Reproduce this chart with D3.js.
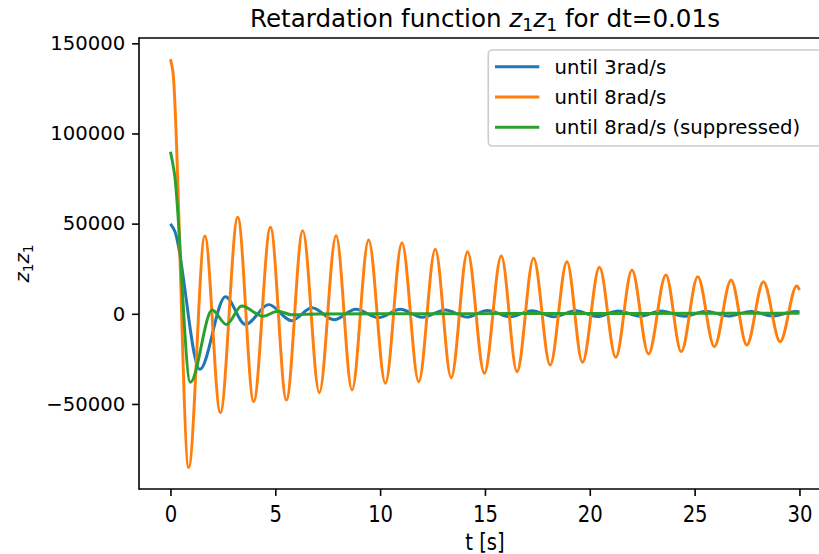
<!DOCTYPE html>
<html>
<head>
<meta charset="utf-8">
<script src="https://cdn.jsdelivr.net/npm/d3@7"></script>
<style>
  html, body { margin: 0; padding: 0; background: #fff; }
  svg { display: block; font-family: "DejaVu Sans", sans-serif; }
</style>
</head>
<body>
<svg id="chart" width="819" height="554"></svg>
<script>
// Turning points [t (s), z1z1] of each retardation function
const until3 = [
  [0, 49800], [0.2, 46000], [1.40, -30770], [2.62, 9480], [3.58, -5900], [4.69, 5100],
  [5.77, -3800], [6.75, 3300], [7.80, -3250], [8.84, 2550], [9.93, -2160],
  [10.96, 2490], [12.00, -1940], [13.11, 2100], [14.14, -1800], [15.12, 1800],
  [16.21, -1700], [17.24, 1750], [18.27, -1600], [19.34, 1650], [20.34, -1500],
  [21.37, 1550], [22.40, -1400], [23.40, 1500], [24.50, -1350], [25.55, 1400],
  [26.60, -1300], [27.70, 1350], [28.70, -1250], [29.80, 1300], [30.00, 1200]
];
const until8 = [
  [0, 141250], [0.12, 134000], [0.87, -85300], [1.64, 43100], [2.38, -54800], [3.21, 53500],
  [3.97, -48700], [4.77, 47950], [5.53, -47800], [6.31, 46060], [7.10, -43730],
  [7.90, 43290], [8.66, -42240], [9.45, 40900], [10.25, -38520], [11.04, 39410],
  [11.84, -37640], [12.63, 35750], [13.39, -35420], [14.17, 34420], [14.97, -32980],
  [15.78, 32040], [16.53, -32090], [17.32, 30760], [18.11, -28380], [18.91, 28880],
  [19.65, -26880], [20.46, 25770], [21.24, -24110], [22.01, 24280], [22.80, -22280],
  [23.63, 21510], [24.36, -21010], [25.15, 20560], [25.94, -18240], [26.74, 18740],
  [27.49, -17290], [28.28, 17790], [29.08, -15470], [29.87, 15410], [30.00, 13190]
];
const until8Suppressed = [
  [0, 89850], [0.2, 77000], [0.95, -37970], [1.99, 2100], [2.67, -5900], [3.40, 4320],
  [4.41, -1390], [5.12, 1440], [5.80, -550], [7.00, -100], [10.00, 0],
  [15.00, 100], [20.00, 150], [25.00, 250], [30.00, 300]
];

const seriesNames = ["until 3rad/s", "until 8rad/s", "until 8rad/s (suppressed)"];
const seriesData = [until3, until8, until8Suppressed];
const seriesColors = ["#1f77b4", "#ff7f0e", "#2ca02c"];

const xTicks = [0, 5, 10, 15, 20, 25, 30];
const yTicks = [-50000, 0, 50000, 100000, 150000];

const FS = 19.65;              // tick / label font size
const XSTRETCH = 1.2;          // vertical stretch of the x-axis texts
const plot = { left: 139, right: 830.9, top: 38, bottom: 489 };

const svg = d3.select("#chart");

const x = d3.scaleLinear().domain([-1.5, 31.5]).range([plot.left, plot.right]);
const y = d3.scaleLinear().domain([-97155, 152940]).range([plot.bottom, plot.top]);

// clip region for the data lines
svg.append("defs").append("clipPath").attr("id", "plotclip")
  .append("rect")
  .attr("x", plot.left).attr("y", plot.top)
  .attr("width", plot.right - plot.left).attr("height", plot.bottom - plot.top);

const line = d3.line()
  .x(d => x(d[0]))
  .y(d => y(d[1]))
  .curve(d3.curveMonotoneX);

const lines = svg.append("g").attr("clip-path", "url(#plotclip)");
seriesData.forEach((data, i) => {
  lines.append("path")
    .datum(data)
    .attr("d", line)
    .attr("fill", "none")
    .attr("stroke", seriesColors[i])
    .attr("stroke-width", 2.95)
    .attr("stroke-linejoin", "round")
    .attr("stroke-linecap", "butt");
});

// axes
const xAxis = svg.append("g")
  .attr("transform", `translate(0,${plot.bottom})`)
  .call(d3.axisBottom(x).tickValues(xTicks).tickSize(6.9).tickPadding(0).tickFormat(d3.format("d")));
const yAxis = svg.append("g")
  .attr("transform", `translate(${plot.left},0)`)
  .call(d3.axisLeft(y).tickValues(yTicks).tickSize(6.9).tickPadding(6.9).tickFormat(d3.format("d")));

[xAxis, yAxis].forEach(g => {
  g.select(".domain").remove();
  g.selectAll(".tick line").attr("stroke", "#000").attr("stroke-width", 1.6);
  g.selectAll(".tick text")
    .attr("fill", "#000")
    .style("font-family", "DejaVu Sans")
    .style("font-size", FS + "px");
});
// x tick labels: cap top just below the ticks, stretched vertically
xAxis.selectAll(".tick text")
  .attr("y", 0)
  .attr("dy", "0.73em")
  .attr("transform", `translate(0,16) scale(1,${XSTRETCH})`);

// spines
const spines = svg.append("g").attr("stroke", "#000").attr("stroke-width", 1.6).attr("fill", "none");
spines.append("line").attr("x1", plot.left).attr("x2", plot.left).attr("y1", plot.top - 0.8).attr("y2", plot.bottom + 0.8);
spines.append("line").attr("x1", plot.left).attr("x2", plot.right).attr("y1", plot.bottom).attr("y2", plot.bottom);
spines.append("line").attr("x1", plot.left).attr("x2", plot.right).attr("y1", plot.top).attr("y2", plot.top);
spines.append("line").attr("x1", plot.right).attr("x2", plot.right).attr("y1", plot.top).attr("y2", plot.bottom);

// title with math-style subscripts
const cx = (plot.left + plot.right) / 2;
const title = svg.append("text")
  .attr("x", cx).attr("y", 27)
  .attr("text-anchor", "middle")
  .style("font-size", "24.6px")
  .attr("fill", "#000");
title.append("tspan").text("Retardation function ");
title.append("tspan").style("font-style", "italic").text("z");
title.append("tspan").attr("dy", 4).style("font-size", "17.2px").text("1");
title.append("tspan").attr("dy", -4).style("font-style", "italic").text("z");
title.append("tspan").attr("dy", 4).style("font-size", "17.2px").text("1");
title.append("tspan").attr("dy", -4).text(" for dt=0.01s");

// x label
svg.append("text")
  .attr("transform", `translate(${cx},549.5) scale(1,${XSTRETCH})`)
  .attr("text-anchor", "middle")
  .style("font-size", FS + "px")
  .attr("fill", "#000")
  .text("t [s]");

// y label
const ylab = svg.append("text")
  .attr("transform", `translate(29,${(plot.top + plot.bottom) / 2}) rotate(-90)`)
  .attr("text-anchor", "middle")
  .style("font-size", FS + "px")
  .attr("fill", "#000");
ylab.append("tspan").style("font-style", "italic").text("z");
ylab.append("tspan").attr("dy", 3.5).style("font-size", "13.8px").text("1");
ylab.append("tspan").attr("dy", -3.5).style("font-style", "italic").text("z");
ylab.append("tspan").attr("dy", 3.5).style("font-size", "13.8px").text("1");

// legend
const legend = svg.append("g");
legend.append("rect")
  .attr("x", 488.3).attr("y", 50)
  .attr("width", 333).attr("height", 96)
  .attr("rx", 3.9)
  .attr("fill", "#fff").attr("fill-opacity", 0.8)
  .attr("stroke", "#cccccc").attr("stroke-width", 1.6);
const rowY = [66.7, 96.9, 127.3];
seriesNames.forEach((name, i) => {
  legend.append("line")
    .attr("x1", 495).attr("x2", 539.3)
    .attr("y1", rowY[i]).attr("y2", rowY[i])
    .attr("stroke", seriesColors[i]).attr("stroke-width", 2.95);
  legend.append("text")
    .attr("x", 554.5).attr("y", rowY[i] + 7)
    .style("font-size", FS + "px")
    .attr("fill", "#000")
    .text(name);
});
</script>
</body>
</html>
